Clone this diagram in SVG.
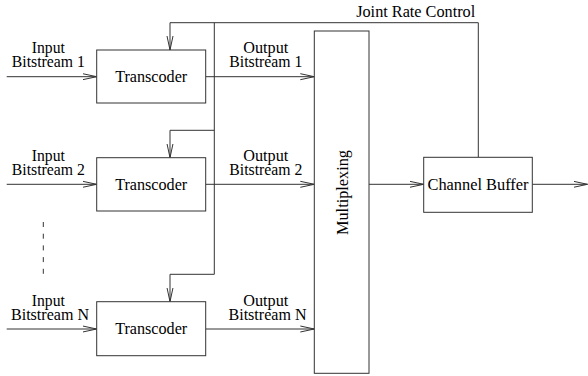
<svg xmlns="http://www.w3.org/2000/svg" width="588" height="376" viewBox="0 0 588 376">
<defs>
<marker id="arr" markerWidth="15" markerHeight="8" refX="14" refY="4" orient="auto" markerUnits="userSpaceOnUse">
<path d="M0,1 L14,4 L0,7" fill="none" stroke="#333" stroke-width="1"/>
</marker>
<style>
.ln{fill:none;stroke:#333;stroke-width:1}
.bx{fill:#fff;stroke:#333;stroke-width:1}
text{font-size:16px;fill:#000;text-anchor:middle}
</style>
</defs>
<rect width="588" height="376" fill="#fff"/>
<g font-family="Liberation Serif, DejaVu Serif, serif">
<g id="connectors">
<path class="ln" d="M6.7,76.7 H96.7" marker-end="url(#arr)"/>
<path class="ln" d="M6.7,184.3 H96.7" marker-end="url(#arr)"/>
<path class="ln" d="M6.7,329 H96.7" marker-end="url(#arr)"/>
<path class="ln" d="M205.7,76.7 H314.3" marker-end="url(#arr)"/>
<path class="ln" d="M205.7,184.3 H314.3" marker-end="url(#arr)"/>
<path class="ln" d="M205.7,329 H314.3" marker-end="url(#arr)"/>
<path class="ln" d="M369,184.3 H423.7" marker-end="url(#arr)"/>
<path class="ln" d="M532.3,184.3 H587.5" marker-end="url(#arr)"/>
<path class="ln" d="M478.3,157.3 V22.7 H170 V50" marker-end="url(#arr)"/>
<path class="ln" d="M214.3,22.7 V274.3"/>
<path class="ln" d="M214.3,130.3 H170 V157.7" marker-end="url(#arr)"/>
<path class="ln" d="M214.3,274.3 H170 V301.7" marker-end="url(#arr)"/>
<path class="ln" d="M43.3,222 V274" stroke-dasharray="5 6.7"/>
<text x="415.7" y="17.3" textLength="119" lengthAdjust="spacingAndGlyphs">Joint Rate Control</text>
<text x="48.3" y="53.3" textLength="33" lengthAdjust="spacingAndGlyphs">Input</text>
<text x="48.3" y="67" textLength="73" lengthAdjust="spacingAndGlyphs">Bitstream 1</text>
<text x="48.3" y="160.8" textLength="33" lengthAdjust="spacingAndGlyphs">Input</text>
<text x="48.3" y="174.6" textLength="73" lengthAdjust="spacingAndGlyphs">Bitstream 2</text>
<text x="48.3" y="305.8" textLength="33" lengthAdjust="spacingAndGlyphs">Input</text>
<text x="50" y="319.5" textLength="78" lengthAdjust="spacingAndGlyphs">Bitstream N</text>
<text x="265.8" y="53.3" textLength="45" lengthAdjust="spacingAndGlyphs">Output</text>
<text x="265.8" y="67" textLength="73" lengthAdjust="spacingAndGlyphs">Bitstream 1</text>
<text x="265.8" y="160.8" textLength="45" lengthAdjust="spacingAndGlyphs">Output</text>
<text x="265.8" y="174.6" textLength="73" lengthAdjust="spacingAndGlyphs">Bitstream 2</text>
<text x="265.8" y="305.8" textLength="45" lengthAdjust="spacingAndGlyphs">Output</text>
<text x="267.5" y="319.5" textLength="78" lengthAdjust="spacingAndGlyphs">Bitstream N</text>
</g>
<g id="transcoder1">
<rect class="bx" x="96.7" y="50" width="109" height="53"/>
<text x="151.2" y="82" textLength="72" lengthAdjust="spacingAndGlyphs">Transcoder</text>
</g>
<g id="transcoder2">
<rect class="bx" x="96.7" y="157.7" width="109" height="53.3"/>
<text x="151.2" y="189.6" textLength="72" lengthAdjust="spacingAndGlyphs">Transcoder</text>
</g>
<g id="transcoderN">
<rect class="bx" x="96.7" y="301.7" width="109" height="54"/>
<text x="151.2" y="334.3" textLength="72" lengthAdjust="spacingAndGlyphs">Transcoder</text>
</g>
<g id="multiplexing">
<rect class="bx" x="314.3" y="31" width="54.7" height="342.3"/>
<text transform="translate(347.5,192.5) rotate(-90)" textLength="85" lengthAdjust="spacingAndGlyphs">Multiplexing</text>
</g>
<g id="channelbuffer">
<rect class="bx" x="423.7" y="157.3" width="108.6" height="55"/>
<text x="478" y="189.5" textLength="101" lengthAdjust="spacingAndGlyphs">Channel Buffer</text>
</g>
</g>
</svg>
